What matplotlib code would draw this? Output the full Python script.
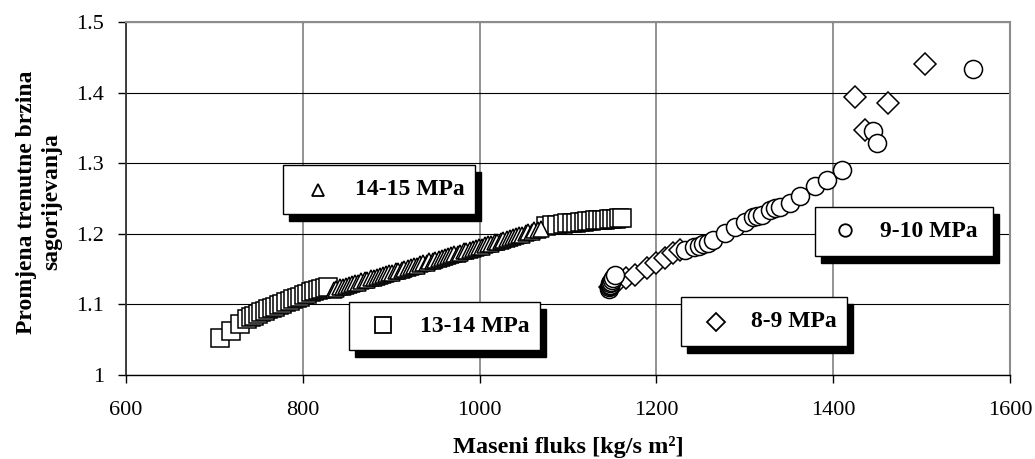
import matplotlib
matplotlib.use('Agg')
import matplotlib.pyplot as plt
from matplotlib.patches import Rectangle

plt.rcParams['font.family'] = ['Liberation Serif', 'DejaVu Serif']

# ---- data ----
# 13-14 MPa (squares)
sq_x = [706, 719, 729, 737, 741, 745, 749, 753, 757, 761, 765, 769, 773, 777, 781, 785,
        789, 793, 797, 801, 805, 809, 813, 817, 821, 825, 829,
        1075, 1082, 1088, 1094, 1099, 1104, 1109, 1114, 1118, 1122, 1126, 1130, 1134,
        1138, 1142, 1146, 1150, 1154, 1158, 1161]
sq_y = [1.052, 1.063, 1.072, 1.080, 1.082, 1.084, 1.087, 1.089, 1.091, 1.093, 1.095,
        1.097, 1.099, 1.101, 1.103, 1.105, 1.107, 1.109, 1.111, 1.113, 1.115, 1.117,
        1.119, 1.120, 1.122, 1.123, 1.125,
        1.211, 1.212, 1.213, 1.214, 1.215, 1.215, 1.216, 1.217, 1.217, 1.218, 1.218,
        1.219, 1.219, 1.220, 1.220, 1.221, 1.221, 1.221, 1.222, 1.222]

# 14-15 MPa (triangles)
tr_x = [835, 838, 842, 845, 849, 852, 856, 859, 863, 866, 870, 873, 877, 880, 884, 887,
        891, 894, 898, 901, 905, 908, 912, 915, 919, 922, 926, 929, 933, 936, 940, 943,
        947, 950, 954, 957, 961, 964, 968, 971, 975, 978, 982, 985, 989, 992, 996, 999,
        1003, 1006, 1010, 1013, 1017, 1020, 1024, 1027, 1031, 1034, 1038, 1041, 1045,
        1048, 1052, 1055, 1059, 1062, 1066, 1070]
tr_y = [1.121, 1.122, 1.124, 1.125, 1.126, 1.128, 1.129, 1.130, 1.131, 1.133, 1.134,
        1.135, 1.137, 1.138, 1.139, 1.140, 1.142, 1.143, 1.144, 1.145, 1.147, 1.148,
        1.149, 1.150, 1.152, 1.153, 1.154, 1.155, 1.157, 1.158, 1.159, 1.161, 1.162,
        1.163, 1.165, 1.166, 1.167, 1.168, 1.170, 1.171, 1.172, 1.173, 1.175, 1.176,
        1.177, 1.178, 1.180, 1.181, 1.182, 1.184, 1.185, 1.186, 1.188, 1.189, 1.190,
        1.191, 1.193, 1.194, 1.195, 1.197, 1.198, 1.199, 1.201, 1.202, 1.203, 1.205,
        1.206, 1.207]

# 9-10 MPa (circles)
ci_x = [1146, 1146, 1147, 1147, 1148, 1149, 1150, 1151, 1153,
        1232, 1243, 1248, 1253, 1258, 1264, 1278, 1289, 1300, 1309, 1314, 1319,
        1328, 1334, 1340, 1351, 1362, 1379, 1393, 1410, 1445, 1450, 1558]
ci_y = [1.122, 1.124, 1.126, 1.128, 1.130, 1.132, 1.134, 1.137, 1.141,
        1.177, 1.181, 1.183, 1.185, 1.187, 1.191, 1.201, 1.210, 1.217, 1.224, 1.225,
        1.227, 1.234, 1.236, 1.238, 1.243, 1.253, 1.267, 1.276, 1.291, 1.345, 1.329,
        1.433]

# 8-9 MPa (diamonds)
di_x = [1148, 1152, 1158, 1166, 1176, 1189, 1200, 1210, 1219, 1227,
        1425, 1436, 1462, 1504]
di_y = [1.125, 1.130, 1.135, 1.138, 1.142, 1.151, 1.158, 1.166, 1.173, 1.177,
        1.394, 1.347, 1.385, 1.441]

x_ticks = [600, 800, 1000, 1200, 1400, 1600]
y_ticks = [1.0, 1.1, 1.2, 1.3, 1.4, 1.5]
y_ticklabels = ['1', '1.1', '1.2', '1.3', '1.4', '1.5']

# ---- figure ----
W, H = 1035, 459
fig = plt.figure(figsize=(W / 100, H / 100), dpi=100)
L, R, T, B = 126, 1010, 22, 375
ax = fig.add_axes([L / W, (H - B) / H, (R - L) / W, (B - T) / H])

mk = dict(linestyle='none', markerfacecolor='white', markeredgecolor='black',
          markeredgewidth=1.1)
ax.plot(di_x, di_y, marker='D', markersize=11, zorder=3, **mk)
ax.plot(ci_x, ci_y, marker='o', markersize=13, zorder=4, **mk)
ax.plot(sq_x, sq_y, marker='s', markersize=13, zorder=5, **mk)
ax.plot(tr_x, tr_y, marker='^', markersize=11, zorder=6, **mk)

ax.set_xlim(600, 1600)
ax.set_ylim(1.0, 1.5)
ax.set_xticks(x_ticks)
ax.set_xticklabels([str(v) for v in x_ticks])
ax.set_yticks(y_ticks)
ax.set_yticklabels(y_ticklabels)

ax.set_axisbelow(True)
ax.yaxis.grid(True, color='black', linewidth=0.8)
ax.xaxis.grid(True, color='#808080', linewidth=1.2)

for s in ['top', 'right']:
    ax.spines[s].set_color('#8c8c8c')
    ax.spines[s].set_linewidth(1.5)
ax.spines['left'].set_color('#333333')
ax.spines['left'].set_linewidth(1.3)
ax.spines['bottom'].set_color('black')
ax.spines['bottom'].set_linewidth(1.0)

ax.tick_params(axis='both', direction='out', length=6, width=1, labelsize=16,
               top=False, right=False)
ax.tick_params(axis='x', pad=13)
ax.tick_params(axis='y', pad=10)

fig.text(39 / W, 1 - 202 / H, 'Promjena trenutne brzina\nsagorijevanja',
         rotation=90, ha='center', va='center', multialignment='center',
         fontsize=17, fontweight='bold', linespacing=1.25)
fig.text((L + R) / 2 / W, 1 - 447 / H, 'Maseni fluks [kg/s m²]',
         ha='center', va='center', fontsize=17.5, fontweight='bold')


# ---- separate legend boxes with shadows ----
def px_x(p):
    return (p - L) / (R - L)


def px_y(p):
    return (B - p) / (B - T)


def key(box, mpos, marker, ms, tx, label):
    x0, y0, x1, y1 = px_x(box[0]), px_y(box[3]), px_x(box[2]), px_y(box[1])
    dx, dy = 6 / (R - L), 7 / (B - T)
    ax.add_patch(Rectangle((x0 + dx, y0 - dy), x1 - x0, y1 - y0, transform=ax.transAxes,
                           facecolor='black', edgecolor='black', zorder=10, clip_on=False))
    ax.add_patch(Rectangle((x0, y0), x1 - x0, y1 - y0, transform=ax.transAxes,
                           facecolor='white', edgecolor='black', linewidth=1.0,
                           zorder=11, clip_on=False))
    ax.plot([px_x(mpos[0])], [px_y(mpos[1])], transform=ax.transAxes, marker=marker,
            markersize=ms, linestyle='none', markerfacecolor='white',
            markeredgecolor='black', markeredgewidth=1.3, zorder=12, clip_on=False)
    ax.text(px_x(tx), (y0 + y1) / 2, label, transform=ax.transAxes, ha='left',
            va='center', fontsize=17, fontweight='bold', zorder=12)


key((283, 165, 475, 214), (318, 190), '^', 9, 355, '14-15 MPa')
key((349, 302, 540, 350), (383, 325), 's', 11, 420, '13-14 MPa')
key((681, 297, 847, 346), (716, 322), 'D', 9, 751, '8-9 MPa')
key((815, 207, 993, 256), (845, 230), 'o', 9, 880, '9-10 MPa')

fig.savefig('out.png', dpi=100)
